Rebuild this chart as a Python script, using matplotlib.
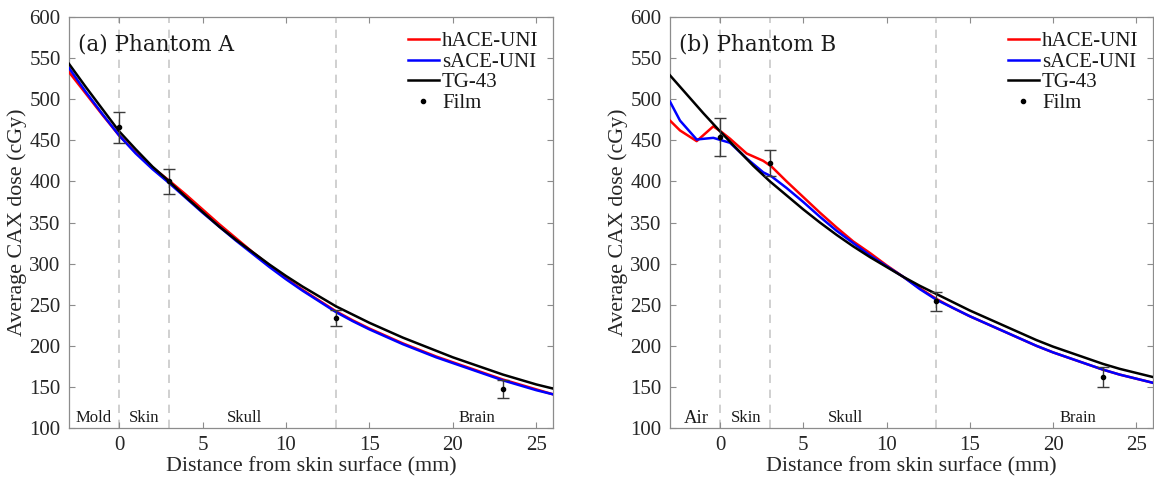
import matplotlib
matplotlib.use("Agg")
import matplotlib.pyplot as plt

# ---------------- Data ----------------
# Phantom A
xA = list(range(-3, 27))
tg43_A = [543, 515, 488, 461, 439, 418, 400, 381, 363, 345, 329, 314, 299, 285, 272,
          260, 248, 238, 228, 219, 210, 202, 194, 186, 179, 172, 165, 159, 153, 148]
hace_A = [533, 507, 481, 456, 435, 417, 401, 384, 366, 348, 331, 314, 298, 282, 268,
          255, 242, 231, 221, 212, 203, 195, 187, 180, 173, 166, 159, 153, 147, 141]
sace_A = [538, 509, 482, 456, 434, 415, 398, 380, 362, 345, 328, 312, 296, 281, 267,
          254, 241, 230, 220, 211, 202, 194, 186, 179, 172, 165, 158, 152, 146, 141]
film_x_A = [0, 3, 13, 23]
film_A = [466, 400, 234, 147]
film_err_A = [19, 15, 10, 11]

# Phantom B
xB_tg = list(range(-3, 27))
tg43_B = [529, 506, 483, 461, 440, 419, 400, 383, 366, 350, 335, 321, 308, 296, 284,
          273, 263, 253, 243, 234, 225, 216, 207, 199, 192, 185, 178, 172, 167, 162]
xB_sim = [-3, -2.4, -1.4, -0.4, 0.1, 0.6, 1.6, 2.6, 3.1, 4, 5, 6, 7, 8, 9, 10, 11, 12,
          13, 14, 15, 16, 17, 18, 19, 20, 21, 22, 23, 24, 25, 26]
hace_B = [474, 462, 449, 467, 460, 452, 434, 425, 418, 400, 381, 362, 344, 327, 313,
          298, 284, 270, 257, 246, 236, 227, 218, 209, 200, 192, 185, 178, 171, 165, 160, 155]
sace_B = [497, 474, 451, 453, 450, 447, 428, 411, 406, 392, 375, 357, 340, 325, 310,
          297, 284, 269, 256, 246, 236, 227, 218, 209, 200, 192, 185, 178, 171, 165, 160, 155]
film_x_B = [0, 3, 13, 23]
film_B = [454, 422, 254, 162]
film_err_B = [23, 16, 12, 12]

boundaries = [0, 3, 13]
regions_A = [("Mold", -1.5), ("Skin", 1.5), ("Skull", 7.5), ("Brain", 21.45)]
regions_B = [("Air", -1.45), ("Skin", 1.56), ("Skull", 7.55), ("Brain", 21.5)]

xticks = [0, 5, 10, 15, 20, 25]
yticks = [100, 150, 200, 250, 300, 350, 400, 450, 500, 550, 600]

# ---------------- Plot ----------------
plt.rcParams['font.family'] = ['Liberation Serif', 'DejaVu Serif']
fig = plt.figure(figsize=(11.54, 4.86), dpi=100)
axA = fig.add_axes([0.0598, 0.1193, 0.4194, 0.8457])
axB = fig.add_axes([0.5806, 0.1193, 0.4185, 0.8457])

spine_col = '#8c8c8c'


def setup(ax, title, regions, region_sizes):
    ax.set_xlim(-3, 26)
    ax.set_ylim(100, 600)
    ax.set_xticks(xticks)
    ax.set_yticks(yticks)
    ax.tick_params(direction='in', top=True, right=True, length=4, width=0.8,
                   color=spine_col, labelsize=15, labelcolor='#262626', pad=6)
    for s in ax.spines.values():
        s.set_color(spine_col)
        s.set_linewidth(0.9)
    for b in boundaries:
        ax.axvline(b, color='#c8c8c8', ls=(0, (5, 4)), lw=1.2, zorder=1)
    ax.set_xlabel("Distance from skin surface (mm)", fontsize=15.8, color='#262626', labelpad=1)
    ax.set_ylabel("Average CAX dose (cGy)", fontsize=15.8, color='#262626', labelpad=2)
    ax.text(-2.45, 567, title, fontsize=15.5, color='#1a1a1a', va='center', ha='left',
            family=['DejaVu Serif'])
    for (lab, xp), fs in zip(regions, region_sizes):
        ax.text(xp, 112, lab, fontsize=fs, ha='center', va='center', color='#1a1a1a')


def draw(ax, x_tg, tg, x_sim_h, h, x_sim_s, s, fx, fy, fe):
    ax.plot(x_sim_h, h, color='#ff0000', lw=1.8, label='hACE-UNI', zorder=3)
    ax.plot(x_sim_s, s, color='#0000ff', lw=1.8, label='sACE-UNI', zorder=3)
    ax.plot(x_tg, tg, color='black', lw=1.8, label='TG-43', zorder=4)
    ax.errorbar(fx, fy, yerr=fe, fmt='none', ecolor='#3c3c3c', elinewidth=1.0,
                capsize=4, capthick=1.0, zorder=5)
    ax.plot(fx, fy, ls='none', marker='.', color='black', markersize=6, label='Film', zorder=6)
    leg = ax.legend(loc='upper right', frameon=False, fontsize=15, handlelength=1.5,
                    handletextpad=0.15, labelspacing=0.05, borderaxespad=0.3,
                    bbox_to_anchor=(1.0, 1.0))
    for t in leg.get_texts():
        t.set_color('#1a1a1a')


setup(axA, "(a) Phantom A", regions_A, [12, 12, 12, 12])
draw(axA, xA, tg43_A, xA, hace_A, xA, sace_A, film_x_A, film_A, film_err_A)

setup(axB, "(b) Phantom B", regions_B, [13.5, 12, 12, 12])
draw(axB, xB_tg, tg43_B, xB_sim, hace_B, xB_sim, sace_B, film_x_B, film_B, film_err_B)

fig.savefig("out.png", dpi=100)
